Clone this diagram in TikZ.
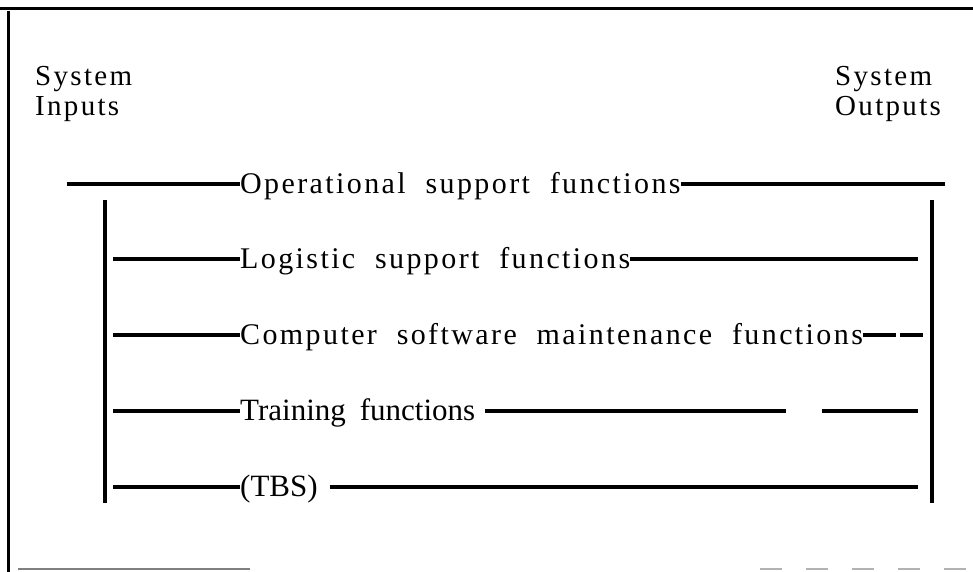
\documentclass[tikz,border=0pt]{standalone}
\usepackage{fontspec}
\setmainfont{Liberation Serif}
% tracked serif for the headings and most function names
\newfontfamily\spacedfont[LetterSpace=8,WordSpace=2]{Liberation Serif}
% untracked serif for the last two rows
\newfontfamily\plainfont[WordSpace=1.8]{Liberation Serif}

\begin{document}
\begin{tikzpicture}[x=1pt,y=1pt,
  rule/.style={line width=3.2pt},
  bar/.style={line width=4.2pt},
  frame/.style={line width=3pt},
  faint/.style={line width=2pt, black!50},
  fn/.style={inner sep=0pt, anchor=base west, font=\spacedfont\fontsize{30}{36}\selectfont},
  fnplain/.style={inner sep=0pt, anchor=base west, font=\plainfont\fontsize{31}{37}\selectfont},
  head/.style={inner sep=0pt, anchor=base west, font=\spacedfont\fontsize{29}{35}\selectfont}
]
\useasboundingbox (0,0) rectangle (973,572);

% outer frame
\coordinate (fTL) at (0,563);
\coordinate (fTR) at (973,563);
\coordinate (fLT) at (8,561);
\coordinate (fLB) at (8,0);
\coordinate (fBL) at (18,3);
\coordinate (fBM) at (250,3);
\coordinate (fBR1) at (760,3);
\coordinate (fBR2) at (973,3);
\draw[frame] (fTL) -- (fTR);
\draw[frame] (fLT) -- (fLB);
\draw[faint] (fBL) -- (fBM);
\draw[faint, black!30, dash pattern=on 22pt off 24pt] (fBR1) -- (fBR2);

% headings
\node[head] (sysin)  at (35,486)  {System};
\node[head] (inp)    at (35,456)  {Inputs};
\node[head] (sysout) at (835,486) {System};
\node[head] (outp)   at (835,456) {Outputs};

% left and right collecting bars
\coordinate (lbT) at (105,372);
\coordinate (lbB) at (105,69);
\coordinate (rbT) at (932,372);
\coordinate (rbB) at (932,69);
\draw[bar] (lbT) -- (lbB);
\draw[bar] (rbT) -- (rbB);

% operational support
\coordinate (opL) at (67,388);
\coordinate (opR) at (945,388);
\node[fn] (op) at (240,378) {Operational support functions};
\draw[rule] (opL) -- (opL -| op.west);
\draw[rule] (op.east |- opR) -- (opR);

% logistic support
\coordinate (logL) at (113,313);
\coordinate (logR) at (918,313);
\node[fn] (log) at (240,303) {Logistic support functions};
\draw[rule] (logL) -- (logL -| log.west);
\draw[rule] (log.east |- logR) -- (logR);

% computer software maintenance
\coordinate (cmpL) at (113,237);
\coordinate (cmpA) at (896,237);
\coordinate (cmpB) at (900,237);
\coordinate (cmpR) at (923,237);
\node[fn] (cmp) at (240,227) {Computer software maintenance functions};
\draw[rule] (cmpL) -- (cmpL -| cmp.west);
\draw[rule] (cmp.east |- cmpA) -- (cmpA);
\draw[rule] (cmpB) -- (cmpR);

% training
\coordinate (trL) at (113,161);
\coordinate (trA) at (786,161);
\coordinate (trB) at (822,161);
\coordinate (trR) at (918,161);
\node[fnplain] (tr) at (240,151) {Training functions};
\draw[rule] (trL) -- (trL -| tr.west);
\draw[rule] ([xshift=10pt]tr.east |- trA) -- (trA);
\draw[rule] (trB) -- (trR);

% to be specified
\coordinate (tbL) at (113,85);
\coordinate (tbR) at (918,85);
\node[fnplain] (tbs) at (240,75) {(TBS)};
\draw[rule] (tbL) -- (tbL -| tbs.west);
\draw[rule] ([xshift=12pt]tbs.east |- tbR) -- (tbR);
\end{tikzpicture}
\end{document}
